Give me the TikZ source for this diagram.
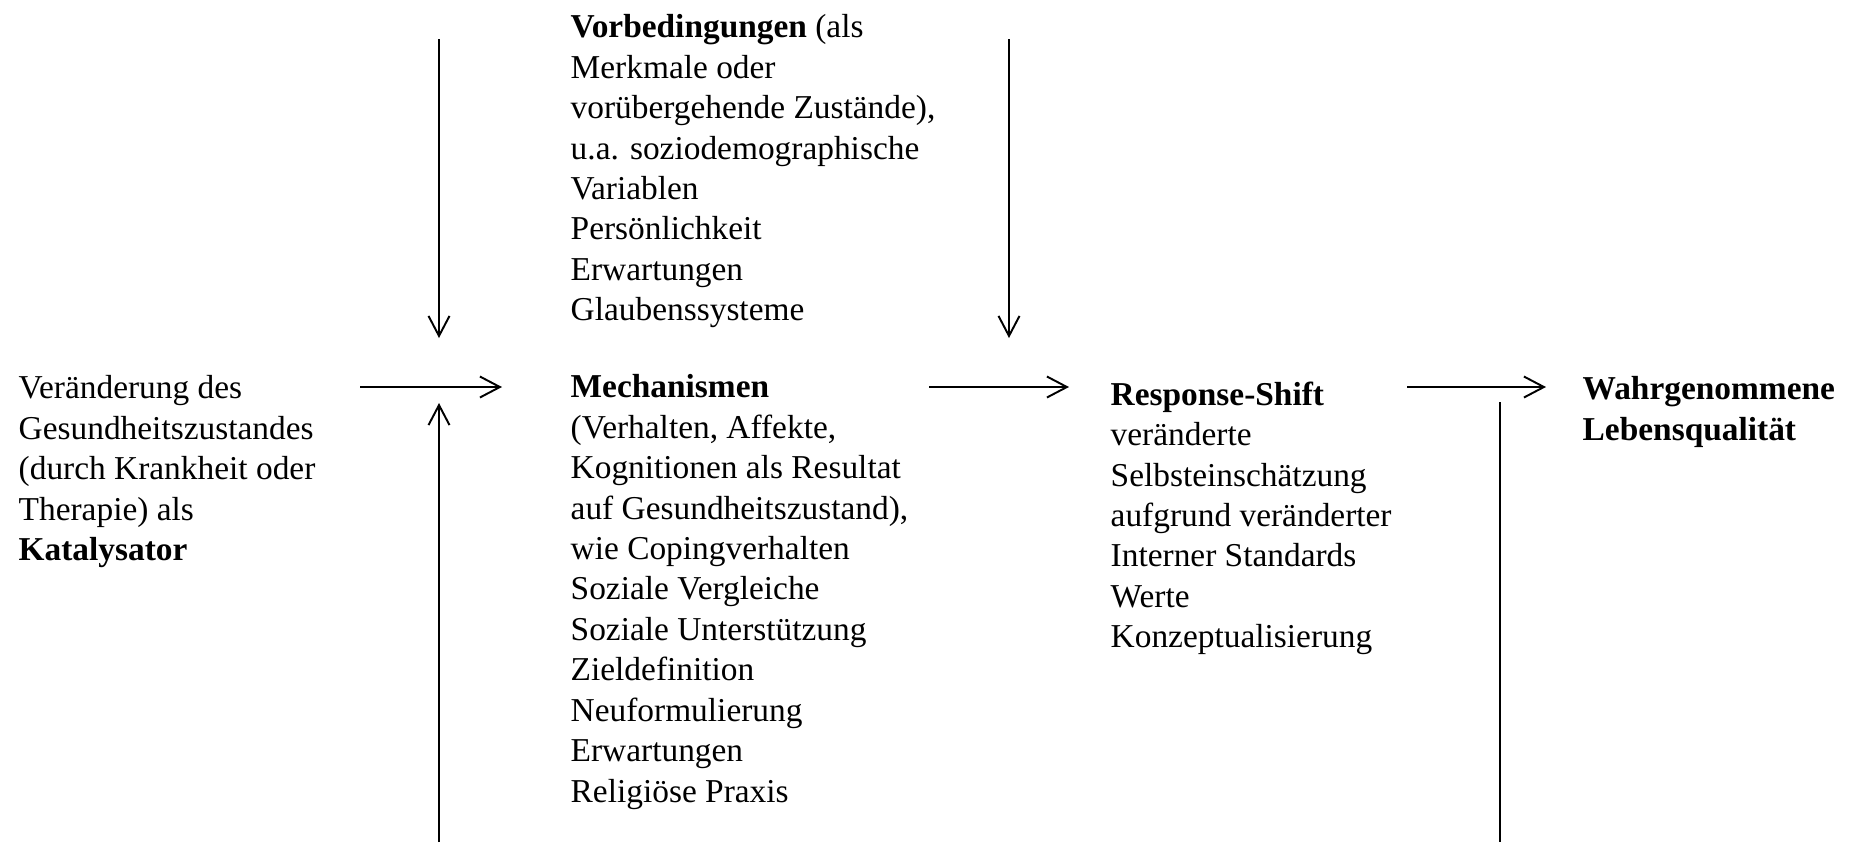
\documentclass[tikz,border=0pt]{standalone}
\usepackage{fontspec}
\setmainfont{Liberation Serif}
\usetikzlibrary{arrows.meta}

\begin{document}
\begin{tikzpicture}[txt/.style={anchor=north west,inner sep=0pt,align=left,font=\fontsize{9.5}{11.5}\selectfont,execute at begin node=\strut},
pfeil/.style={line width=.55pt,-{Straight Barb[length=2mm,width=2.1mm,line width=.55pt]}},
strich/.style={line width=.55pt}]
\useasboundingbox (0,0) rectangle (18.5,-8.42);
\node[txt] (vorbed) at (5.70,-0.14) {\textbf{Vorbedingungen} (als\\Merkmale oder\\vorübergehende Zustände),\\u.a. soziodemographische\\Variablen\\Persönlichkeit\\Erwartungen\\Glaubenssysteme};
\node[txt] (katal) at (0.18,-3.75) {Veränderung des\\Gesundheitszustandes\\(durch Krankheit oder\\Therapie) als\\\textbf{Katalysator}};
\node[txt] (mechan) at (5.70,-3.74) {\textbf{Mechanismen}\\(Verhalten, Affekte,\\Kognitionen als Resultat\\auf Gesundheitszustand),\\wie Copingverhalten\\Soziale Vergleiche\\Soziale Unterstützung\\Zieldefinition\\Neuformulierung\\Erwartungen\\Religiöse Praxis};
\node[txt] (respshift) at (11.10,-3.81) {\textbf{Response-Shift}\\veränderte\\Selbsteinschätzung\\aufgrund veränderter\\Interner Standards\\Werte\\Konzeptualisierung};
\node[txt] (lebensq) at (15.82,-3.76) {\textbf{Wahrgenommene}\\\textbf{Lebensqualität}};
\coordinate (h1a) at (3.60,-3.87);
\coordinate (h1b) at (5.02,-3.87);
\coordinate (h2a) at (9.29,-3.87);
\coordinate (h2b) at (10.69,-3.87);
\coordinate (h3a) at (14.07,-3.87);
\coordinate (h3b) at (15.46,-3.87);
\coordinate (v1a) at (4.39,-0.39);
\coordinate (v1b) at (4.39,-3.38);
\coordinate (v2a) at (10.09,-0.39);
\coordinate (v2b) at (10.09,-3.38);
\coordinate (u1a) at (4.39,-8.42);
\coordinate (u1b) at (4.39,-4.03);
\coordinate (r1a) at (15.00,-4.02);
\coordinate (r1b) at (15.00,-8.42);
\draw[pfeil] (h1a)--(h1b);
\draw[pfeil] (h2a)--(h2b);
\draw[pfeil] (h3a)--(h3b);
\draw[pfeil] (v1a)--(v1b);
\draw[pfeil] (v2a)--(v2b);
\draw[pfeil] (u1a)--(u1b);
\draw[strich] (r1a)--(r1b);
\end{tikzpicture}
\end{document}
